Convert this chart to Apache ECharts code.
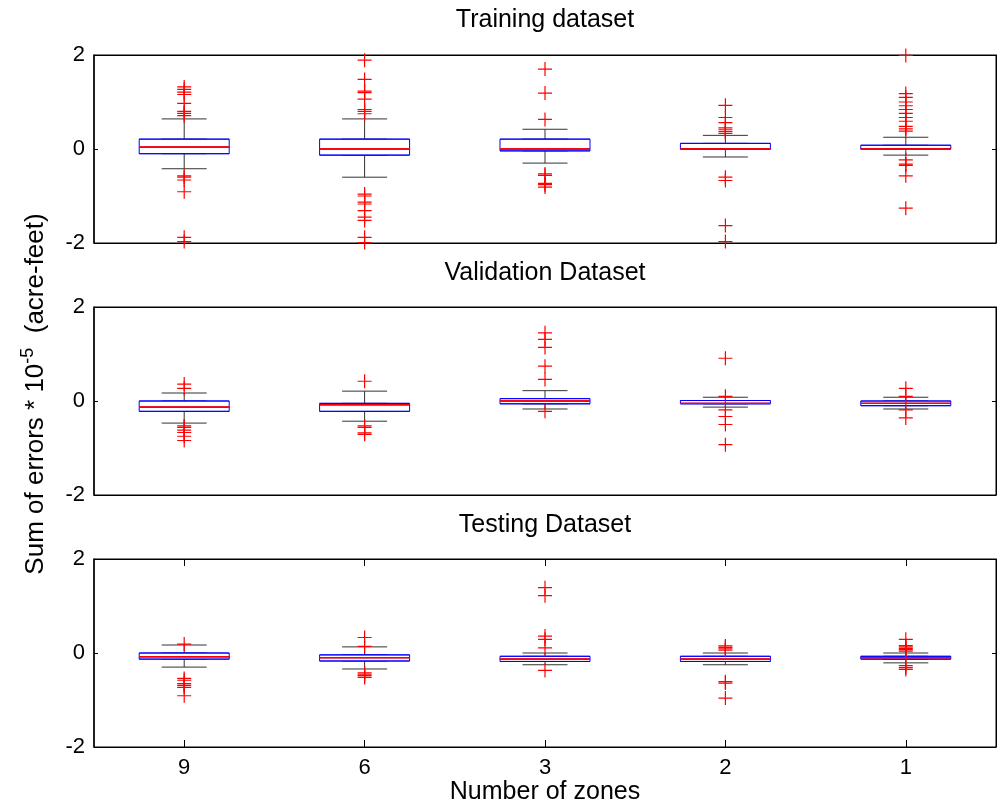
<!DOCTYPE html>
<html>
<head>
<meta charset="utf-8">
<script src="https://cdn.jsdelivr.net/npm/echarts@6/dist/echarts.min.js"></script>
<style>
html,body{margin:0;padding:0;background:#fff;}
#chart{width:997px;height:807px;}
</style>
</head>
<body>
<div id="chart"></div>
<script>
// ---------- data ----------
const categories = ['9', '6', '3', '2', '1'];
const panelTitles = ['Training dataset', 'Validation Dataset', 'Testing Dataset'];
const xAxisTitle = 'Number of zones';
const yTickValues = [-2, 0, 2];

// box stats per category: [lower whisker, Q1, median, Q3, upper whisker]
const trainBox = [
  [-0.42, -0.10, 0.04, 0.21, 0.64],
  [-0.60, -0.13, 0.00, 0.21, 0.64],
  [-0.30, -0.04, 0.00, 0.21, 0.42],
  [-0.17, 0.00, 0.00, 0.12, 0.29],
  [-0.13, 0.00, 0.00, 0.08, 0.25]
];
const trainOutliers = [
  [1.32, 1.27, 1.21, 1.16, 0.97, 0.80, 0.76, 0.71, -0.57, -0.60, -0.66, -0.91, -1.88, -1.97],
  [1.89, 1.48, 1.23, 1.20, 1.06, 0.84, 0.80, 0.75, -0.96, -1.00, -1.13, -1.17, -1.31, -1.45, -1.52, -1.88, -1.99],
  [1.70, 1.19, 0.63, -0.53, -0.56, -0.73, -0.76, -0.81],
  [0.93, 0.67, 0.56, 0.45, 0.41, 0.37, 0.33, -0.60, -0.67, -1.63, -1.97],
  [1.99, 1.18, 1.10, 1.00, 0.92, 0.84, 0.76, 0.67, 0.59, 0.48, 0.43, 0.38, -0.23, -0.32, -0.35, -0.57, -1.26]
];

const valBox = [
  [-0.47, -0.22, -0.13, 0.00, 0.17],
  [-0.43, -0.22, -0.08, -0.05, 0.21],
  [-0.17, -0.06, 0.00, 0.05, 0.22],
  [-0.13, -0.06, -0.05, 0.01, 0.08],
  [-0.17, -0.10, -0.05, 0.00, 0.08]
];
const valOutliers = [
  [0.36, 0.27, -0.53, -0.56, -0.62, -0.67, -0.75, -0.84],
  [0.42, -0.53, -0.56, -0.68, -0.71],
  [1.45, 1.31, 1.14, 0.74, 0.46, -0.22],
  [0.91, 0.10, -0.19, -0.33, -0.50, -0.93],
  [0.27, 0.10, -0.19, -0.36]
];

const testBox = [
  [-0.30, -0.13, -0.08, 0.00, 0.17],
  [-0.34, -0.17, -0.10, -0.04, 0.13],
  [-0.25, -0.18, -0.13, -0.07, 0.00],
  [-0.25, -0.18, -0.13, -0.07, 0.00],
  [-0.21, -0.13, -0.10, -0.07, 0.00]
];
const testOutliers = [
  [0.19, -0.54, -0.58, -0.65, -0.69, -0.73, -0.91],
  [0.33, 0.14, -0.42, -0.45, -0.48, -0.52],
  [1.39, 1.22, 0.36, 0.29, 0.11, -0.37],
  [0.15, 0.12, 0.09, 0.06, -0.61, -0.64, -0.96],
  [0.29, 0.16, 0.13, 0.10, 0.07, 0.04, -0.27, -0.31, -0.35]
];

// ---------- build ----------
const FONT = '"Liberation Sans", Arial, Helvetica, sans-serif';
const boxes = [trainBox, valBox, testBox];
const outliers = [trainOutliers, valOutliers, testOutliers];
const gridTops = [55, 307, 559];
const gridH = 188;
const gridLeft = 94;
const gridW = 902;
const titleYs = [20, 273, 525];

const grids = [], xAxes = [], yAxes = [], series = [], graphics = [];
const PLUS = 'path://M0,6.4H14V7.6H0Z M6.4,0H7.6V14H6.4Z';

function hiddenX(gi) {
  return {type: 'category', gridIndex: gi, data: categories, boundaryGap: true, show: false,
    axisLine: {onZero: false}};
}

for (let i = 0; i < 3; i++) {
  const last = i === 2;
  grids.push({left: gridLeft, top: gridTops[i], width: gridW, height: gridH,
    show: true, borderColor: '#000', borderWidth: 1, backgroundColor: '#fff'});
  const xBase = xAxes.length;
  // bottom x axis
  xAxes.push({
    type: 'category', gridIndex: i, data: categories, boundaryGap: true, position: 'bottom',
    axisLine: {show: true, onZero: false, lineStyle: {color: '#000', width: 1}},
    axisTick: {show: last, inside: true, length: 7, alignWithLabel: true, lineStyle: {color: '#000'}},
    axisLabel: {show: last, fontSize: 22, color: '#000', fontFamily: FONT, margin: 10},
    splitLine: {show: false}
  });
  // top x axis (ticks only)
  xAxes.push({
    type: 'category', gridIndex: i, data: categories, boundaryGap: true, position: 'top',
    axisLine: {show: true, onZero: false, lineStyle: {color: '#000', width: 1}},
    axisTick: {show: last, inside: true, length: 7, alignWithLabel: true, lineStyle: {color: '#000'}},
    axisLabel: {show: false}, splitLine: {show: false}
  });
  xAxes.push(hiddenX(i));
  xAxes.push(hiddenX(i));
  const yBase = yAxes.length;
  yAxes.push({
    type: 'value', gridIndex: i, min: -2, max: 2, interval: 2, position: 'left',
    axisLine: {show: true, onZero: false, lineStyle: {color: '#000', width: 1.5}},
    axisTick: {show: true, inside: true, length: 4, lineStyle: {color: '#000'}},
    axisLabel: {fontSize: 22, color: '#000', fontFamily: FONT, margin: 9,
      formatter: v => (yTickValues.indexOf(v) >= 0 ? String(v) : '')},
    splitLine: {show: false}
  });
  yAxes.push({
    type: 'value', gridIndex: i, min: -2, max: 2, interval: 2, position: 'right',
    axisLine: {show: true, onZero: false, lineStyle: {color: '#000', width: 1}},
    axisTick: {show: true, inside: true, length: 4, lineStyle: {color: '#000'}},
    axisLabel: {show: false}, splitLine: {show: false}
  });
  const b = boxes[i];
  // whiskers (black, half-width caps)
  series.push({
    type: 'boxplot', xAxisIndex: xBase, yAxisIndex: yBase, silent: true, animation: false,
    boxWidth: [45, 45], data: b,
    itemStyle: {color: '#fff', borderColor: '#333', borderWidth: 1}
  });
  // box (blue)
  series.push({
    type: 'boxplot', xAxisIndex: xBase + 2, yAxisIndex: yBase, silent: true, animation: false,
    boxWidth: [90, 90], data: b.map(r => [r[1], r[1], r[2], r[3], r[3]]),
    itemStyle: {color: '#fff', borderColor: '#0000ff', borderWidth: 1}
  });
  // median (red)
  series.push({
    type: 'boxplot', xAxisIndex: xBase + 3, yAxisIndex: yBase, silent: true, animation: false,
    boxWidth: [90, 90], data: b.map(r => [r[2], r[2], r[2], r[2], r[2]]),
    itemStyle: {color: 'rgba(0,0,0,0)', borderColor: '#ff0000', borderWidth: 0.8}
  });
  // outliers
  const pts = [];
  outliers[i].forEach((arr, ci) => arr.forEach(v => pts.push([categories[ci], v])));
  series.push({
    type: 'scatter', xAxisIndex: xBase, yAxisIndex: yBase, silent: true, animation: false,
    symbol: PLUS, symbolSize: 14, data: pts, clip: false, z: 5,
    itemStyle: {color: '#ff0000', opacity: 1}
  });
  graphics.push({
    type: 'text', x: gridLeft + gridW / 2, y: titleYs[i],
    style: {text: panelTitles[i], fontSize: 25, fontFamily: FONT, fill: '#000',
      textAlign: 'center', textVerticalAlign: 'middle'}
  });
}

graphics.push({
  type: 'text', x: gridLeft + gridW / 2, y: 792,
  style: {text: xAxisTitle, fontSize: 25, fontFamily: FONT, fill: '#000',
    textAlign: 'center', textVerticalAlign: 'middle'}
});
graphics.push({
  type: 'text', x: 34, y: 394, rotation: Math.PI / 2,
  style: {
    text: '{a|Sum of errors * 10}{s|-5}{a|  (acre-feet)}',
    textAlign: 'center', textVerticalAlign: 'middle',
    rich: {
      a: {fontSize: 26, fontFamily: FONT, fill: '#000', color: '#000', lineHeight: 30, verticalAlign: 'bottom'},
      s: {fontSize: 18, fontFamily: FONT, fill: '#000', color: '#000', lineHeight: 30, verticalAlign: 'top', padding: [0, 0, 12, 0]}
    }
  }
});

const chart = echarts.init(document.getElementById('chart'), null, {renderer: 'canvas'});
chart.setOption({
  animation: false,
  backgroundColor: '#fff',
  grid: grids, xAxis: xAxes, yAxis: yAxes, series: series, graphic: graphics
});
</script>
</body>
</html>
